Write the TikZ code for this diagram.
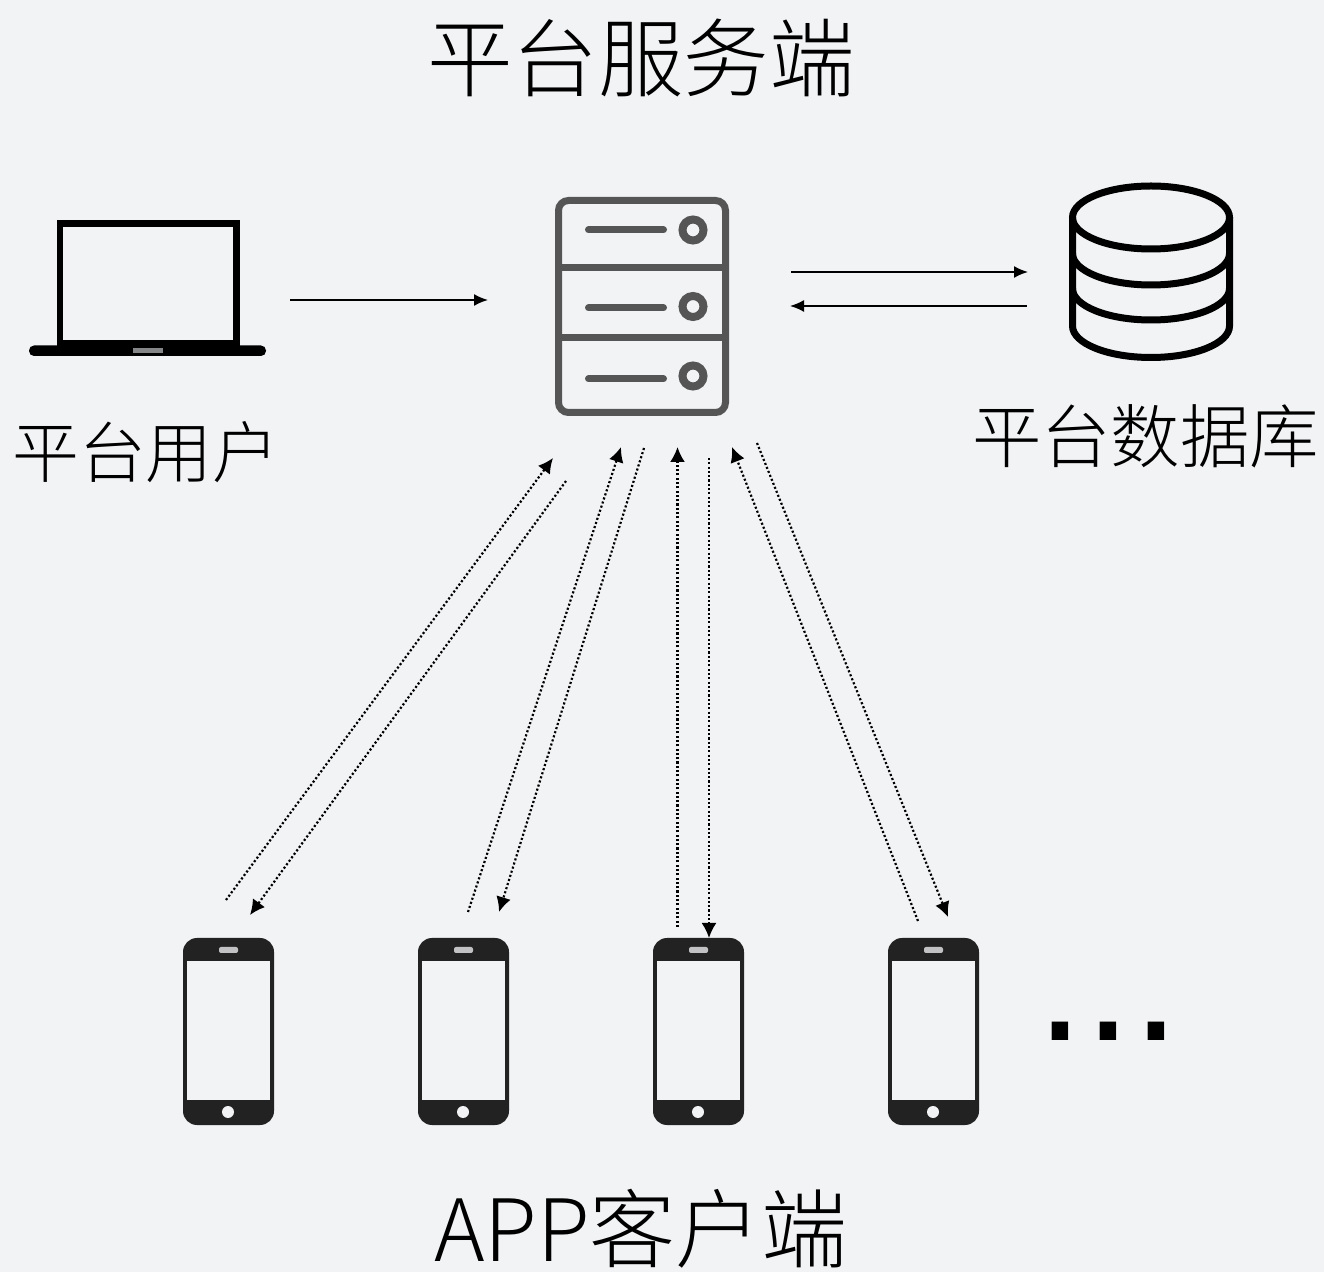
\documentclass[tikz,border=0pt]{standalone}
\usepackage{fontspec}
\usetikzlibrary{arrows.meta}
\newfontfamily\cjk{Noto Sans CJK SC Light}
\newfontfamily\latn{Liberation Sans}
\definecolor{bgc}{RGB}{242,243,245}
\definecolor{srv}{RGB}{85,85,85}
\definecolor{phn}{RGB}{34,34,34}
\tikzset{
  x=0.5pt,y=-0.5pt,
  solidarrow/.style={draw=black,line width=0.85pt,-{Latex[length=7pt,width=6pt]}},
  dotarrow/.style={draw=black,line width=1.1pt,dash pattern=on 1.05pt off 1.1pt,-{Latex[length=7.5pt,width=7.5pt]}},
  lab/.style={inner sep=0pt,font=\cjk,text=black},
  srvline/.style={draw=srv,line width=3.5pt},
  dbline/.style={draw=black,line width=3.5pt}
}
\newcommand{\phoneicon}[2]{%
  \begin{scope}[shift={(#1,0)}]
    \node[inner sep=0pt,minimum size=0pt] (#2) at (45.5,1031) {};
    \fill[phn,rounded corners=7pt] (0,938) rectangle (91,1125);
    \fill[bgc] (4,961) rectangle (87,1100);
    \fill[bgc!80!black,rounded corners=1pt] (36,947) rectangle (55,953);
    \fill[bgc] (45,1112) circle[radius=6];
  \end{scope}}
\newcommand{\srvrow}[2]{%
  \draw[srvline,line cap=round] (588.5,#1) -- (663.5,#1);
  \draw[draw=srv,line width=4pt] (693,#2) circle[radius=10.5];}
\begin{document}
\begin{tikzpicture}
\useasboundingbox (0,0) rectangle (1324,1272);
\fill[bgc] (0,0) rectangle (1324,1272);
% texts
\node[lab,font=\cjk\fontsize{42.8}{43}\selectfont] (title) at (641,58) {平台服务端};
\node[lab,font=\cjk\fontsize{33.4}{34}\selectfont] (userlabel) at (146,452) {平台用户};
\node[lab,font=\cjk\fontsize{34.7}{35}\selectfont] (dblabel) at (1145.5,436) {平台数据库};
\node[lab,font=\cjk\fontsize{43}{43}\selectfont] (applabel) at (641,1229) {APP客户端};
\node[inner sep=0pt,anchor=base west,font=\latn\fontsize{86}{86}\selectfont] (more) at (1036,1040) {...};
% laptop
\node[inner sep=0pt] (laptop) at (148,288) {};
\draw[draw=black,line width=3.3pt] (60,223.5) rectangle (236.5,343);
\fill[black] (57,340) rectangle (240,356);
\fill[black,rounded corners=2.5pt] (29,345.5) rectangle (266,356);
\fill[black!45!bgc] (133,348) rectangle (163,353);
% server
\node[inner sep=0pt] (server) at (642,306) {};
\draw[srvline,rounded corners=5pt] (558.5,200.5) rectangle (725.5,412.5);
\draw[srvline] (558.5,268) -- (725.5,268);
\draw[srvline] (558.5,338) -- (725.5,338);
\srvrow{230}{230}
\srvrow{308}{306.5}
\srvrow{379}{376}
% database
\node[inner sep=0pt] (database) at (1151,272) {};
\draw[dbline] (1151,217.5) ellipse[x radius=78.5,y radius=31.5];
\draw[dbline] (1072.5,253.5) arc[start angle=180,end angle=360,x radius=78.5,y radius=-31.5];
\draw[dbline] (1072.5,288.5) arc[start angle=180,end angle=360,x radius=78.5,y radius=-31.5];
\draw[dbline] (1072.5,217.5) -- (1072.5,326) arc[start angle=180,end angle=360,x radius=78.5,y radius=-31.5] -- (1229.5,217.5);
% phones
\phoneicon{183}{phoneA}
\phoneicon{418}{phoneB}
\phoneicon{653}{phoneC}
\phoneicon{888}{phoneD}
% connector ends
\coordinate (la) at (290,300); \coordinate (lb) at (488,300);
\coordinate (da) at (791,272); \coordinate (db) at (1028,272);
\coordinate (dc) at (1027,306); \coordinate (dd) at (790,306);
\coordinate (a1) at (226,900); \coordinate (a2) at (553,458);
\coordinate (a3) at (566,481); \coordinate (a4) at (250,915);
\coordinate (b1) at (468,912); \coordinate (b2) at (621,447);
\coordinate (b3) at (644,448); \coordinate (b4) at (499,912);
\coordinate (c1) at (677.5,927); \coordinate (c2) at (677.5,447);
\coordinate (c3) at (709,458); \coordinate (c4) at (709,938);
\coordinate (d1) at (918,921); \coordinate (d2) at (732,447);
\coordinate (d3) at (757,443); \coordinate (d4) at (948,917);
\draw[solidarrow] (la) -- (lb);
\draw[solidarrow] (da) -- (db);
\draw[solidarrow] (dc) -- (dd);
\foreach \s/\e in {a1/a2,a3/a4,b1/b2,b3/b4,c1/c2,c3/c4,d1/d2,d3/d4}
  \draw[dotarrow] (\s) -- (\e);
\end{tikzpicture}
\end{document}
